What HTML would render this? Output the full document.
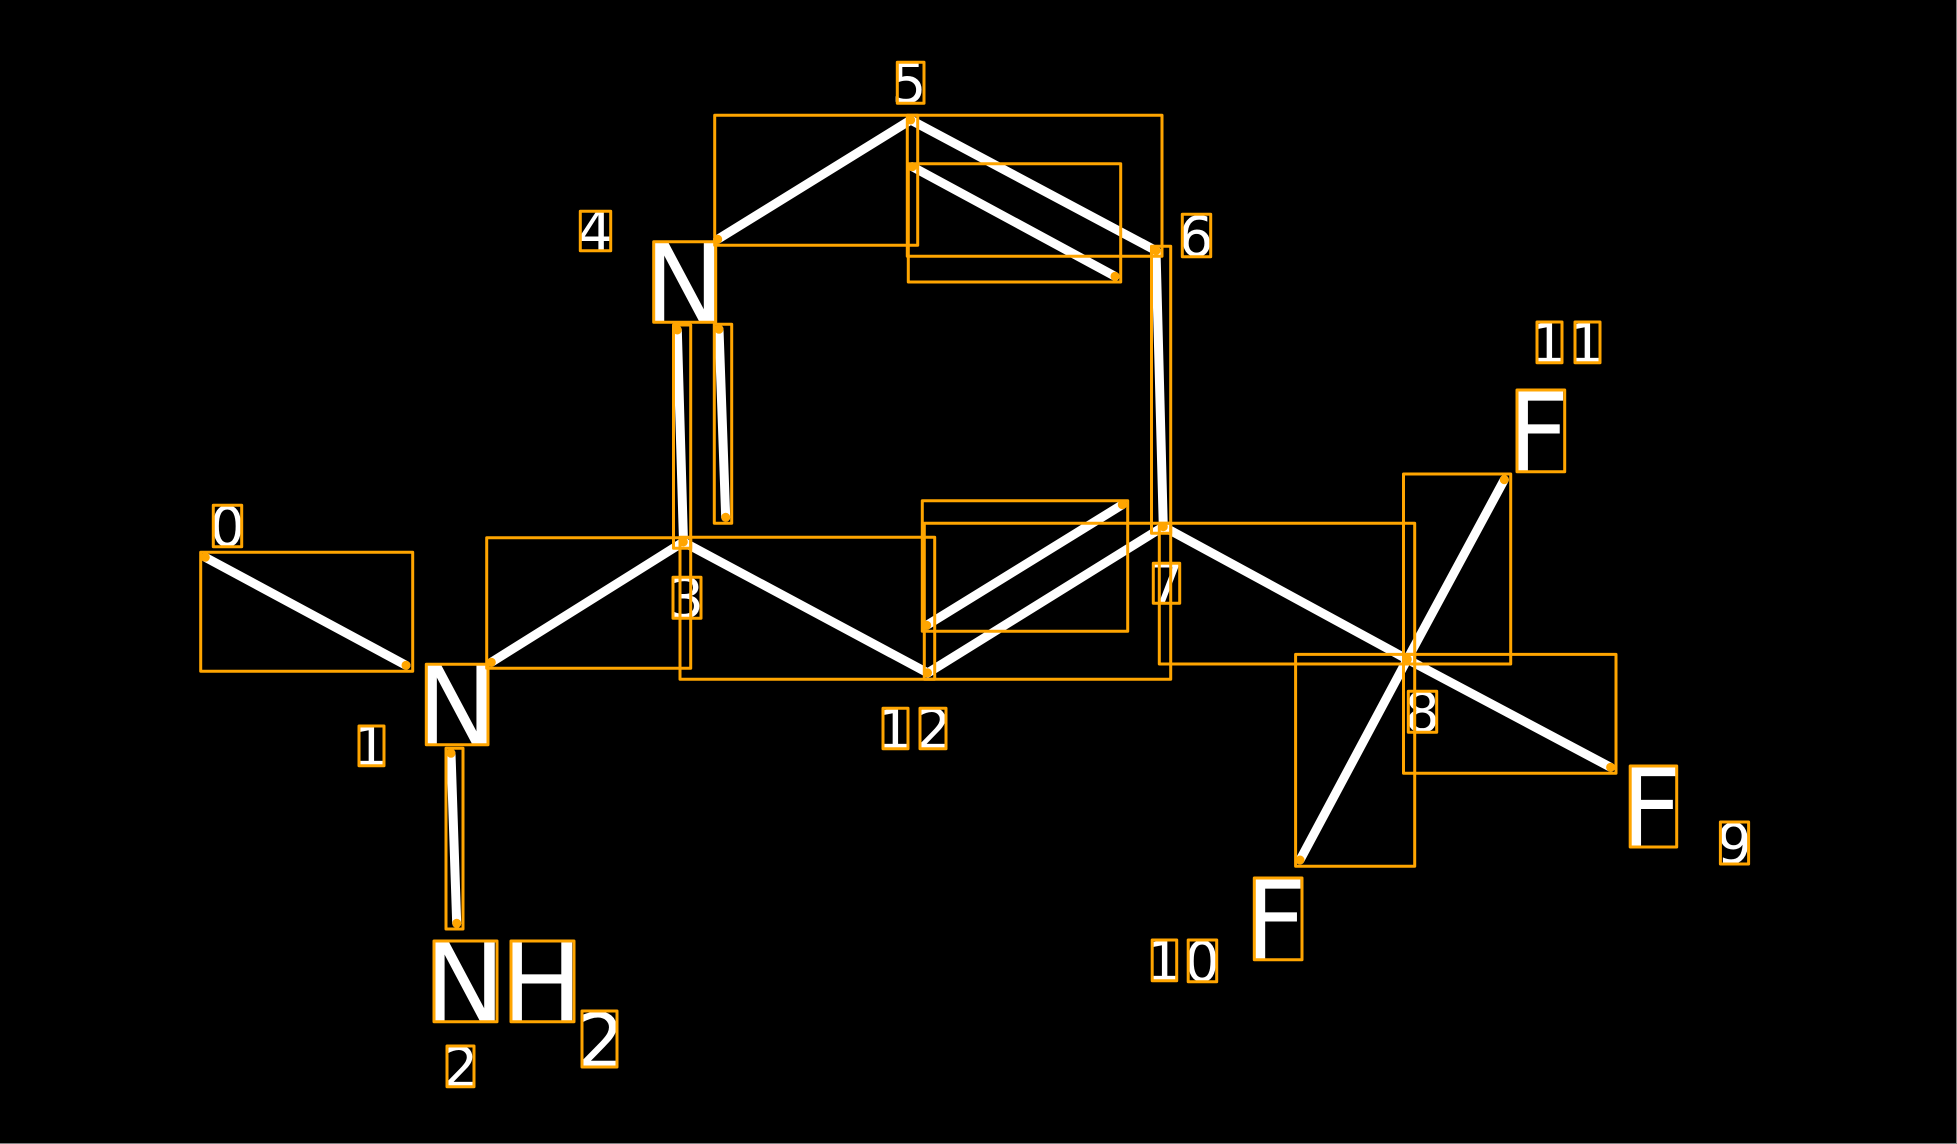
<!DOCTYPE html>
<html><head><meta charset="utf-8"><style>
html,body{margin:0;padding:0;background:#000;width:1957px;height:1144px;overflow:hidden}
svg{display:block}
text{font-family:"DejaVu Sans",sans-serif;fill:#fff}
.d{font-size:55px}.a{font-size:110px}
</style></head><body>
<svg width="1957" height="1144" viewBox="0 0 1957 1144" xmlns="http://www.w3.org/2000/svg">
<rect width="1957" height="1144" fill="#000"/>
<rect x="1956" y="0" width="1" height="1144" fill="#808080"/>
<rect x="0" y="1143" width="1957" height="1" fill="#808080"/>
<g>
<text class="d" x="209.7" y="545.9">0</text>
<text class="d" x="353" y="765.7">1</text>
<text class="d" x="443" y="1086.7">2</text>
<text class="d" x="668.8" y="617.5">3</text>
<text class="d" x="577.6" y="250.7">4</text>
<text class="d" x="891.4" y="102.5">5</text>
<text class="d" x="1178.4" y="255.9">6</text>
<text class="d" x="1148.8" y="603.3">7</text>
<text class="d" x="1404.6" y="731.5">8</text>
<text class="d" x="1716.9" y="863.2">9</text>
<text class="d" x="1146.2" y="980.7">1</text>
<text class="d" x="1184.6" y="980.9">0</text>
<text class="d" x="1531" y="362.7">1</text>
<text class="d" x="1569" y="362.7">1</text>
<text class="d" x="877" y="748.7">1</text>
<text class="d" x="916" y="748.7">2</text>
<text class="a" x="415.5" y="744.7">N</text>
<text class="a" x="642.9" y="322.3">N</text>
<text class="a" x="423.2" y="1021.7">N</text>
<text class="a" x="500.2" y="1021.7">H</text>
<text class="a" x="1619.4" y="847">F</text>
<text class="a" x="1243.5" y="959.7">F</text>
<text class="a" x="1506.2" y="471.7">F</text>
<text x="576.5" y="1067" style="font-size:75px">2</text>
</g>
<g stroke="#fff" stroke-width="9" stroke-linecap="round" fill="none">
<line x1="205.3" y1="557.3" x2="406" y2="665.3"/>
<line x1="491.3" y1="662.3" x2="683.3" y2="542"/>
<line x1="683.3" y1="542" x2="927.5" y2="672.8"/>
<line x1="677.3" y1="330" x2="683.5" y2="542"/>
<line x1="719" y1="329.3" x2="725.7" y2="517.3"/>
<line x1="717.7" y1="239.3" x2="910.7" y2="120"/>
<line x1="910.7" y1="120" x2="1156" y2="250.7"/>
<line x1="912.3" y1="166.7" x2="1115" y2="276.3"/>
<line x1="1156" y1="250.7" x2="1163.3" y2="526.7"/>
<line x1="926.7" y1="625.3" x2="1122.3" y2="504.7"/>
<line x1="927.7" y1="673" x2="1163.3" y2="526.7"/>
<line x1="1164" y1="527" x2="1407.3" y2="659.3"/>
<line x1="1300" y1="860" x2="1407.3" y2="659.3"/>
<line x1="1407.3" y1="659.3" x2="1610.6" y2="767.3"/>
<line x1="1407.3" y1="659.3" x2="1504.3" y2="479.7"/>
<line x1="451" y1="753.3" x2="456.7" y2="923.3"/>
</g>
<g stroke="#FFA500" stroke-width="3" stroke-linejoin="round" fill="none">
<rect x="200.7" y="552.3" width="212" height="119"/>
<rect x="486.7" y="537.7" width="204" height="130.6"/>
<rect x="680" y="537.3" width="254.7" height="142"/>
<rect x="673.5" y="325" width="17.2" height="223.3"/>
<rect x="714.3" y="324.3" width="17.4" height="199"/>
<rect x="714.7" y="115.3" width="203" height="130"/>
<rect x="907.3" y="115.3" width="254.7" height="141"/>
<rect x="908.3" y="163.7" width="212.4" height="118.3"/>
<rect x="1151.5" y="246.3" width="19.2" height="287"/>
<rect x="922.3" y="500.7" width="205.4" height="130.6"/>
<rect x="924.3" y="523.3" width="246.4" height="156"/>
<rect x="1159.3" y="523.3" width="255.4" height="140.7"/>
<rect x="1295.6" y="654.4" width="119.1" height="211.9"/>
<rect x="1403.5" y="654.4" width="212.5" height="118.9"/>
<rect x="1403.5" y="474" width="107.2" height="190"/>
<rect x="446" y="748.3" width="17" height="180.7"/>
<rect x="213.3" y="505.3" width="28.4" height="41.4"/>
<rect x="359" y="726" width="25" height="39.7"/>
<rect x="447" y="1046" width="27" height="40.7"/>
<rect x="673" y="577.3" width="28" height="41"/>
<rect x="580.3" y="211.3" width="30.4" height="39.4"/>
<rect x="897.3" y="62.3" width="26.7" height="41"/>
<rect x="1182.3" y="214.3" width="28.4" height="42.4"/>
<rect x="1153.3" y="563.3" width="26.4" height="40"/>
<rect x="1408.3" y="691.3" width="28.4" height="41"/>
<rect x="1720.4" y="822" width="28.2" height="42"/>
<rect x="1152.2" y="940" width="24.5" height="40.7"/>
<rect x="1188.2" y="940" width="28.5" height="41.7"/>
<rect x="1537" y="322" width="25" height="40.7"/>
<rect x="1575" y="322" width="25" height="40.7"/>
<rect x="883" y="708.3" width="25" height="40.4"/>
<rect x="920" y="708.3" width="26" height="40.4"/>
<rect x="426.3" y="664.3" width="61.7" height="80.4"/>
<rect x="653.7" y="241.7" width="62" height="80.6"/>
<rect x="434" y="941" width="63" height="80.7"/>
<rect x="511" y="941" width="63" height="80.7"/>
<rect x="582" y="1011" width="35" height="56"/>
<rect x="1630.2" y="766" width="46.5" height="81"/>
<rect x="1254.3" y="878" width="47.7" height="81.7"/>
<rect x="1517" y="390" width="47.7" height="81.7"/>
</g>
<g fill="#FFA500">
<circle cx="205.3" cy="557.3" r="4.5"/><circle cx="406" cy="665.3" r="4.5"/>
<circle cx="491.3" cy="662.3" r="4.5"/><circle cx="683.3" cy="542" r="4.5"/>
<circle cx="927.5" cy="672.8" r="4.5"/><circle cx="677.3" cy="330" r="4.5"/>
<circle cx="719" cy="329.3" r="4.5"/><circle cx="725.7" cy="517.3" r="4.5"/>
<circle cx="717.7" cy="239.3" r="4.5"/><circle cx="910.7" cy="120" r="4.5"/>
<circle cx="1156" cy="250.7" r="4.5"/><circle cx="912.3" cy="166.7" r="4.5"/>
<circle cx="1115" cy="276.3" r="4.5"/><circle cx="1163.3" cy="526.7" r="4.5"/>
<circle cx="926.7" cy="625.3" r="4.5"/><circle cx="1122.3" cy="504.7" r="4.5"/>
<circle cx="1407.3" cy="659.3" r="4.5"/><circle cx="1300" cy="860" r="4.5"/>
<circle cx="1610.6" cy="767.3" r="4.5"/><circle cx="1504.3" cy="479.7" r="4.5"/>
<circle cx="451" cy="753.3" r="4.5"/><circle cx="456.7" cy="923.3" r="4.5"/>
</g>
</svg>
</body></html>
